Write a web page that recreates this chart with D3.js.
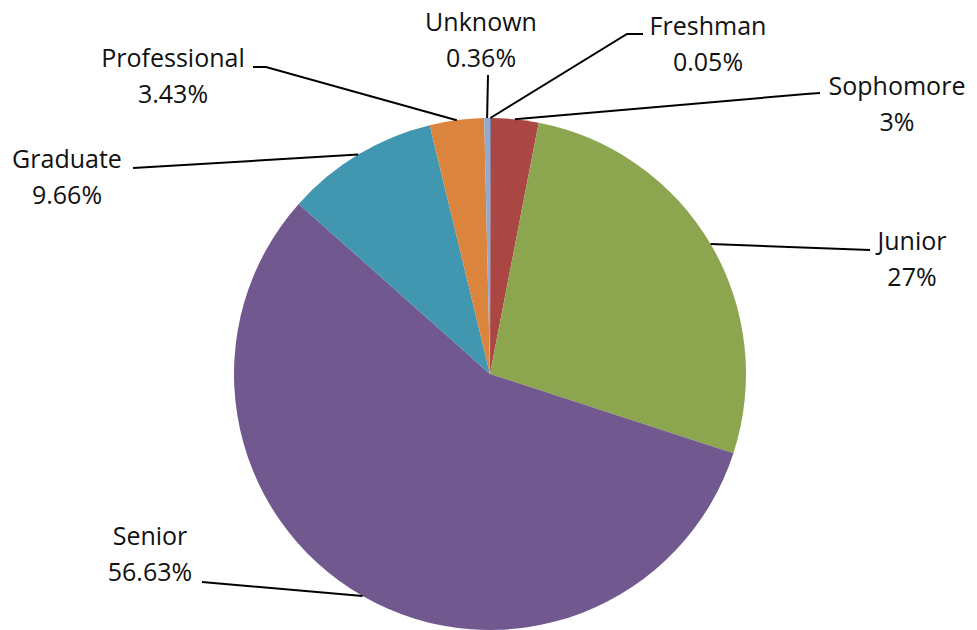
<!DOCTYPE html>
<html>
<head>
<meta charset="utf-8">
<script src="https://cdn.jsdelivr.net/npm/d3@7"></script>
<style>
  html, body { margin: 0; padding: 0; background: #fff; }
  svg { display: block; }
  text { font-family: "Open Sans", sans-serif; font-size: 25px; fill: #111; }
</style>
</head>
<body>
<svg id="chart" width="977" height="630"></svg>
<script>
// ---- data ----
const categories = ["Freshman", "Sophomore", "Junior", "Senior", "Graduate", "Professional", "Unknown"];
const values = [0.05, 3, 27, 56.63, 9.66, 3.43, 0.36];
const valueLabels = ["0.05%", "3%", "27%", "56.63%", "9.66%", "3.43%", "0.36%"];
const colors = ["#4572A7", "#AA4644", "#8BA64F", "#71588F", "#4197AF", "#DA843D", "#93A9CF"];

// ---- layout (label text centres / baselines and leader attach points) ----
const labelLayout = {
  "Freshman":     { x: 708, y: 35,  attach: [[643, 34], [627, 34]] },
  "Sophomore":    { x: 897, y: 95,  attach: [[820, 93], [806, 94]] },
  "Junior":       { x: 912, y: 250, attach: [[870, 250]] },
  "Senior":       { x: 150, y: 545, attach: [[202, 582]] },
  "Graduate":     { x: 67,  y: 168, attach: [[133, 168]] },
  "Professional": { x: 173, y: 67,  attach: [[253, 67], [266, 67]] },
  "Unknown":      { x: 481, y: 31,  attach: [[488, 75]] }
};
const lineGap = 36;

const svg = d3.select("#chart");
const cx = 490, cy = 374, r = 256;
const g = svg.append("g").attr("transform", `translate(${cx},${cy})`);

const data = categories.map((c, i) => ({ name: c, value: values[i], label: valueLabels[i], color: colors[i] }));
const pie = d3.pie().value(d => d.value).sort(null);
const arcs = pie(data);
const arc = d3.arc().innerRadius(0).outerRadius(r);
const edgeArc = d3.arc().innerRadius(r).outerRadius(r);

g.selectAll("path.slice")
  .data(arcs)
  .enter().append("path")
  .attr("class", "slice")
  .attr("d", arc)
  .attr("fill", d => d.data.color);

// leader lines
const line = d3.line();
svg.selectAll("path.leader")
  .data(arcs)
  .enter().append("path")
  .attr("class", "leader")
  .attr("fill", "none")
  .attr("stroke", "#000")
  .attr("stroke-width", 2)
  .attr("d", d => {
    const c = edgeArc.centroid(d);
    const pts = [[c[0] + cx, c[1] + cy]];
    const L = labelLayout[d.data.name];
    L.attach.slice().reverse().forEach(p => pts.push(p));
    return line(pts);
  });

// labels
const lab = svg.selectAll("g.label")
  .data(arcs)
  .enter().append("g")
  .attr("class", "label");
lab.append("text")
  .attr("x", d => labelLayout[d.data.name].x)
  .attr("y", d => labelLayout[d.data.name].y)
  .attr("text-anchor", "middle")
  .text(d => d.data.name);
lab.append("text")
  .attr("x", d => labelLayout[d.data.name].x)
  .attr("y", d => labelLayout[d.data.name].y + lineGap)
  .attr("text-anchor", "middle")
  .text(d => d.data.label);
</script>
</body>
</html>
